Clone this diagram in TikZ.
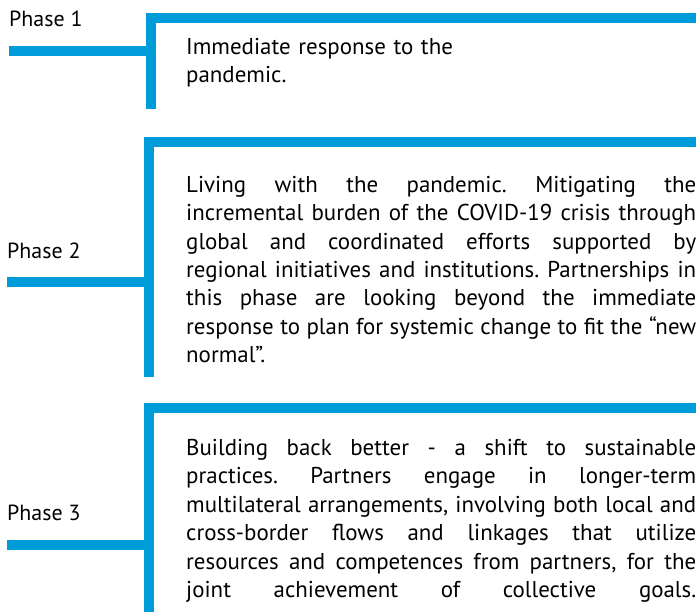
\documentclass[tikz,border=0pt]{standalone}
\usepackage{fontspec}
\setmainfont{PT Sans}
\definecolor{phaseblue}{RGB}{0,155,217}
\newcommand{\phasetext}{\fontsize{23}{28.5}\selectfont\frenchspacing}

\begin{document}
\begin{tikzpicture}[x=1bp, y=-1bp,
    bar/.style={line width=10bp, phaseblue, line join=miter},
    label/.style={anchor=base west, inner sep=0pt, font=\fontsize{22}{24}\selectfont},
    body/.style={anchor=north west, inner sep=0pt, text width=510bp, align=justify, font=\phasetext}]
    \useasboundingbox (0,0) rectangle (696,612);
    % phase 1
    \coordinate (c1) at (151,51);
    \draw[bar] (696,18) -| (151,109);
    \draw[bar] (9,51) -- (c1);
    \node[label] (p1) at (9,27) {Phase 1};
    \node[body, align=left] (t1) at (186,38) {Immediate response to the\\pandemic.};
    % phase 2
    \coordinate (c2) at (149,282);
    \draw[bar] (696,142) -| (149,377);
    \draw[bar] (7,282) -- (c2);
    \node[label] (p2) at (7,258) {Phase 2};
    \node[body] (t2) at (186,176) {Living with the pandemic. Mitigating the\linebreak
        incremental burden of the COVID-19 crisis through\linebreak
        global and coordinated efforts supported by\linebreak
        regional initiatives and institutions. Partnerships in\linebreak
        this phase are looking beyond the immediate\linebreak
        response to plan for systemic change to fit the “new\linebreak
        normal”.};
    % phase 3
    \coordinate (c3) at (149,545);
    \draw[bar] (696,408) -| (149,612);
    \draw[bar] (7,545) -- (c3);
    \node[label] (p3) at (7,520) {Phase 3};
    \node[body] (t3) at (186,439) {Building back better - a shift to sustainable\linebreak
        practices. Partners engage in longer-term\linebreak
        multilateral arrangements, involving both local and\linebreak
        cross-border flows and linkages that utilize\linebreak
        resources and competences from partners, for the\linebreak
        joint achievement of collective goals.\parfillskip=0pt\par};
\end{tikzpicture}
\end{document}
